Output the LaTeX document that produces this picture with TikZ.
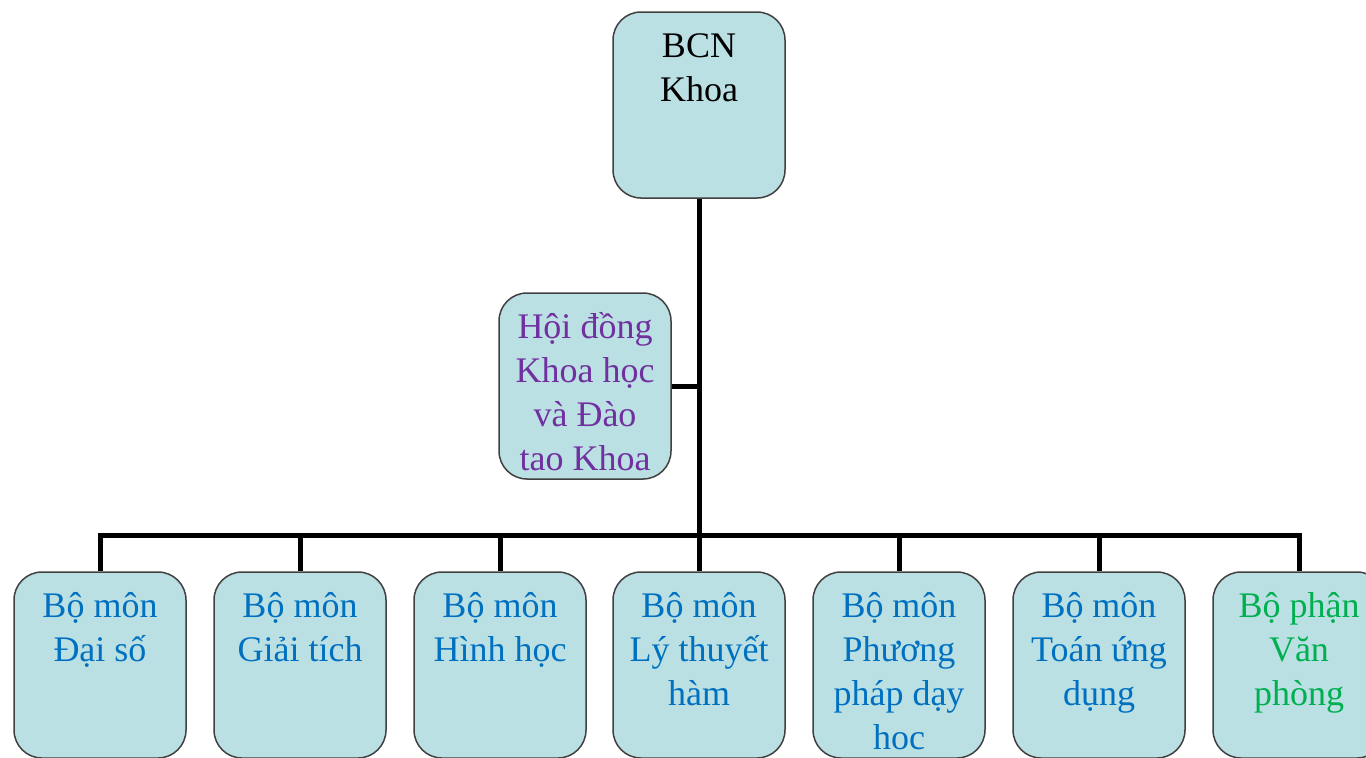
\documentclass[tikz,border=0pt]{standalone}
\usepackage{fontspec}
\setmainfont{Liberation Serif}
\usepackage{xcolor}
\definecolor{boxfill}{HTML}{BBE0E3}
\definecolor{boxline}{HTML}{404040}
\definecolor{deptblue}{HTML}{0070C0}
\definecolor{council}{HTML}{7030A0}
\definecolor{office}{HTML}{00B050}
\tikzset{
  unit/.style={draw=boxline, line width=0.75pt, fill=boxfill, rounded corners=14pt,
    minimum width=86pt, minimum height=93pt, inner sep=0pt},
  lab/.style={anchor=north, align=center, inner sep=0pt, yshift=-6pt,
    font=\fontsize{18}{22}\selectfont},
  link/.style={line width=2.5pt, draw=black}
}

\begin{document}
\begin{tikzpicture}[x=0.5pt, y=-0.5pt]
  \clip (0,0) rectangle (1366,757);

  \node[unit] (bcn) at (699,105) {};
  \node[lab] (bcn-t) at (bcn.north) {\rule{0pt}{17pt}BCN\\Khoa};

  \node[unit] (hd) at (585,386) {};
  \node[lab, text=council] (hd-t) at (hd.north)
    {\rule{0pt}{17pt}Hội đồng\\Khoa học\\và Đào\\tao Khoa};

  \coordinate (bus) at (699,535);
  \draw[link] (bcn.south) -- (bus);
  \draw[link] (hd.east) -- (hd.east -| bcn.south);

  \foreach \i/\x/\txt/\col in {1/100/Bộ môn\\Đại số/deptblue,
      2/300/Bộ môn\\Giải tích/deptblue,
      3/500/Bộ môn\\Hình học/deptblue,
      4/699/Bộ môn\\Lý thuyết\\hàm/deptblue,
      5/899/Bộ môn\\Phương\\pháp dạy\\hoc/deptblue,
      6/1099/Bộ môn\\Toán ứng\\dụng/deptblue,
      7/1299/Bộ phận\\Văn\\phòng/office} {
    \node[unit] (d\i) at (\x,665) {};
    \node[lab, text=\col] (d\i-t) at (d\i.north) {\rule{0pt}{17pt}\txt};
    \draw[link] (bus) -| (d\i.north);
  }
\end{tikzpicture}
\end{document}
